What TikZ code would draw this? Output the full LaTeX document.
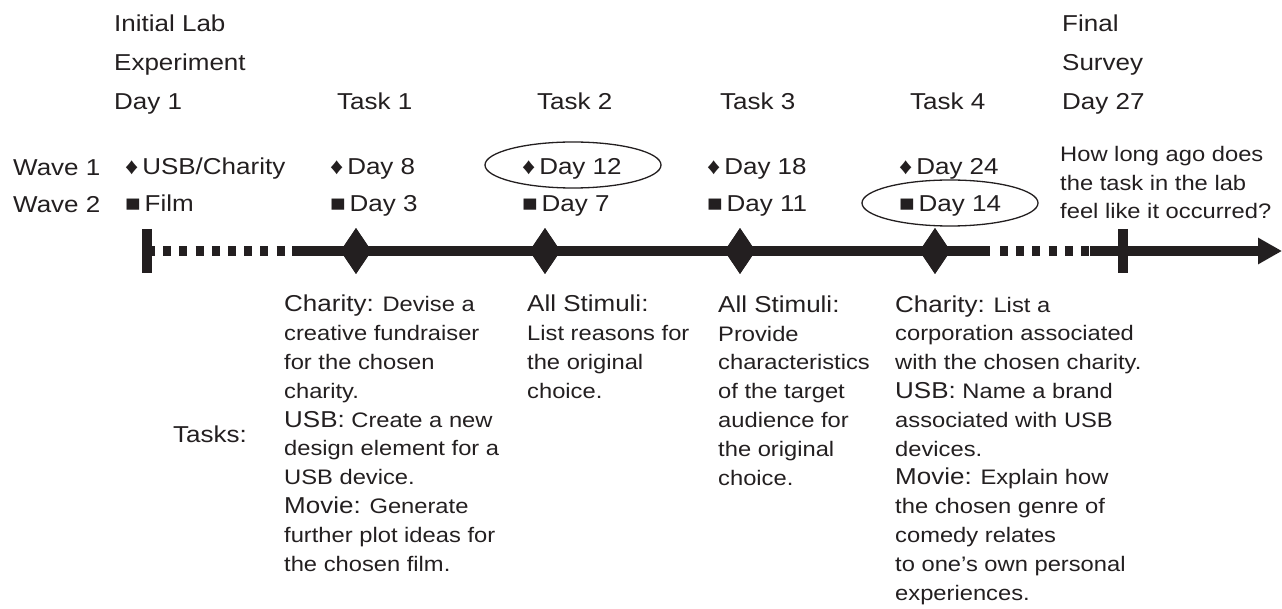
\documentclass[tikz,border=0pt]{standalone}
\usepackage{fontspec}
\setmainfont{Liberation Sans}[FakeStretch=1.13]
\usetikzlibrary{shapes.geometric,arrows.meta}
\definecolor{ink}{RGB}{35,31,32}
\newcommand{\kw}[1]{{\fontsize{23}{28.8}\selectfont #1}}

\begin{document}
\begin{tikzpicture}[x=1pt,y=-1pt,color=ink,
    head/.style={anchor=base west,align=left,inner sep=0,font=\fontsize{23}{39}\selectfont},
    wave/.style={anchor=base west,align=left,inner sep=0,font=\fontsize{23}{37}\selectfont},
    task/.style={anchor=base west,align=left,inner sep=0,font=\fontsize{21}{28.8}\selectfont},
    event/.style={diamond,fill=ink,minimum width=31pt,minimum height=46pt,inner sep=0},
    pick/.style={ellipse,draw=ink,line width=1.3pt,minimum width=176pt,minimum height=46pt},
    axis/.style={line width=10pt},
    dots/.style={line width=10pt,dash pattern=on 8pt off 8.2pt}]
    \useasboundingbox (0,0) rectangle (1282,609);

    % timeline
    \coordinate (lab) at (147,251);
    \coordinate (run) at (292,251);
    \coordinate (gap) at (990,251);
    \coordinate (rerun) at (1090,251);
    \coordinate (survey) at (1123,251);
    \coordinate (tip) at (1282,251);
    \node[event] (t1) at (356,251) {};
    \node[event] (t2) at (545,251) {};
    \node[event] (t3) at (740,251) {};
    \node[event] (t4) at (935,251) {};

    \draw[dots] (lab) -- (run);
    \draw[axis] (run) -- (t1.center) -- (t2.center) -- (t3.center) -- (t4.center) -- (gap);
    \draw[dots] ([xshift=10pt]gap) -- (rerun);
    \draw[axis,-{Triangle[length=24pt,width=25pt]}] (rerun) -- (tip);
    \draw[axis] ([yshift=22pt]lab) -- ([yshift=-22pt]lab);
    \draw[axis] ([yshift=22pt]survey) -- ([yshift=-22pt]survey);
    \foreach \t in {t1,t2,t3,t4}
        \node[event] at (\t) {};

    % headings (base = last line)
    \node[head] (lab-h) at (114,110) {Initial Lab\\Experiment\\Day 1};
    \node[head] (t1-h) at (337,110) {Task 1};
    \node[head] (t2-h) at (537,110) {Task 2};
    \node[head] (t3-h) at (720,110) {Task 3};
    \node[head] (t4-h) at (910,110) {Task 4};
    \node[head] (survey-h) at (1062,110) {Final\\Survey\\Day 27};

    % waves
    \node[wave] (waves) at (13,213) {Wave 1\\Wave 2};
    \node[wave] (lab-w) at (125,212) {♦\,USB/Charity\\■\,Film};
    \node[wave] (t1-w) at (330,212) {♦\,Day 8\\■\,Day 3};
    \node[wave] (t2-w) at (522,212) {♦\,Day 12\\■\,Day 7};
    \node[wave] (t3-w) at (707,212) {♦\,Day 18\\■\,Day 11};
    \node[wave] (t4-w) at (899,212) {♦\,Day 24\\■\,Day 14};
    \node[pick] (sel12) at (573,165) {};
    \node[pick] (sel14) at (950,203) {};
    \node[task] (survey-q) at (1060,219)
        {How long ago does\\the task in the lab\\feel like it occurred?};

    % tasks
    \node[head] (tasks) at (173,442) {Tasks:};
    \node[task] (t1-t) at (284,571) {\kw{Charity:} Devise a\\creative fundraiser\\for the chosen\\charity.\\
        \kw{USB:} Create a new\\design element for a\\USB device.\\
        \kw{Movie:} Generate\\further plot ideas for\\the chosen film.};
    \node[task] (t2-t) at (527,398) {\kw{All Stimuli:}\\List reasons for\\the original\\choice.};
    \node[task] (t3-t) at (718,485) {\kw{All Stimuli:}\\Provide\\characteristics\\of the target\\audience for\\the original\\choice.};
    \node[task] (t4-t) at (895,600) {\kw{Charity:} List a\\corporation associated\\with the chosen charity.\\
        \kw{USB:} Name a brand\\associated with USB\\devices.\\
        \kw{Movie:} Explain how\\the chosen genre of\\comedy relates\\to one’s own personal\\experiences.};
\end{tikzpicture}
\end{document}
